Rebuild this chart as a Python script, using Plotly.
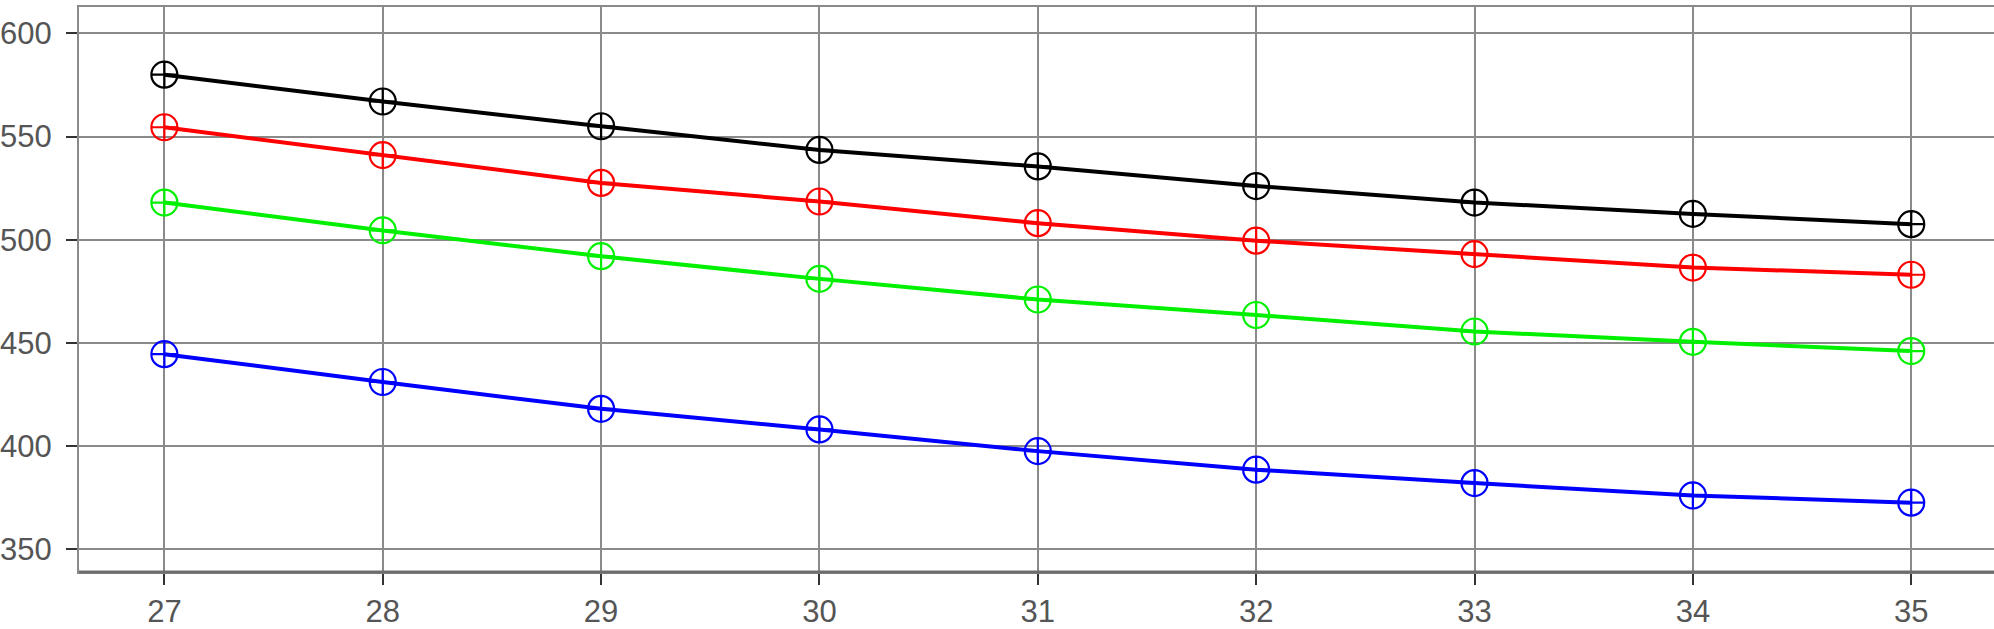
import plotly.graph_objects as go

x_vals = [27, 28, 29, 30, 31, 32, 33, 34, 35]
black_vals = [580, 567, 555, 543.5, 535.5, 526, 518, 512.5, 507.5]
red_vals = [554.5, 541, 527.5, 518.5, 508, 499.5, 493, 486.5, 483]
green_vals = [518, 504.5, 492, 481, 471, 463.5, 455.5, 450.5, 446]
blue_vals = [444.5, 431, 418, 408, 397.5, 388.5, 382, 376, 372.5]

series = [
    ("black", black_vals, "#000000"),
    ("red", red_vals, "#ff0000"),
    ("green", green_vals, "#00f000"),
    ("blue", blue_vals, "#0000ff"),
]

fig = go.Figure()
for name, vals, col in series:
    fig.add_trace(go.Scatter(
        x=x_vals, y=vals, mode="lines+markers", name=name,
        line=dict(color=col, width=4),
        marker=dict(symbol="circle-cross-open", size=26, color=col, line=dict(width=2.2, color=col)),
        showlegend=False,
    ))

grid = "#8a8a8a"
tick_font = dict(family="Liberation Sans, Arial, sans-serif", size=31, color="#555555")
fig.update_layout(
    width=1994, height=629,
    margin=dict(l=76, r=0, t=7, b=56),
    plot_bgcolor="white", paper_bgcolor="white",
    font=tick_font,
    xaxis=dict(
        range=[26.609, 35.379], tickvals=x_vals, ticktext=[str(v) for v in x_vals],
        tickfont=tick_font,
        showgrid=True, gridcolor=grid, gridwidth=2,
        showline=True, linecolor=grid, linewidth=2, mirror=True,
        ticks="outside", ticklen=11, tickwidth=2, tickcolor="#333333",
        zeroline=False,
    ),
    yaxis=dict(
        range=[338.9, 612.8], tickvals=[350, 400, 450, 500, 550, 600],
        ticktext=["350", "400", "450", "500", "550", "600"],
        tickfont=tick_font,
        showgrid=True, gridcolor=grid, gridwidth=2,
        showline=True, linecolor=grid, linewidth=2,
        ticks="outside", ticklen=11, tickwidth=2, tickcolor="#333333",
        ticklabelstandoff=8,
        zeroline=False,
    ),
)
fig.add_shape(type="line", xref="paper", yref="paper", x0=0, x1=1, y0=0, y1=0,
              line=dict(color="#6e6e6e", width=3))
fig.write_html("out.html", config={"displayModeBar": False},
               post_script="document.body.style.margin='0';document.body.style.padding='0';document.body.style.overflow='hidden';")
